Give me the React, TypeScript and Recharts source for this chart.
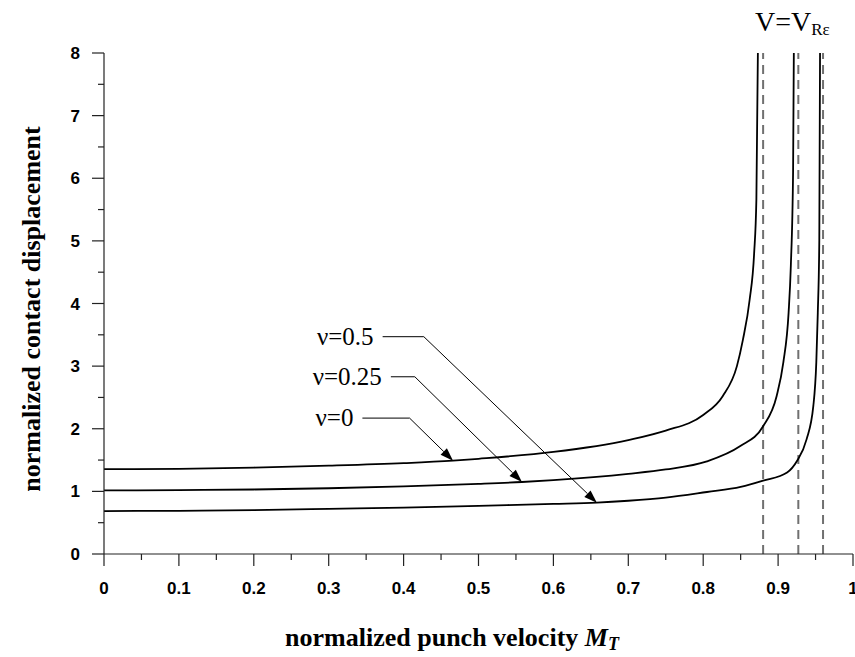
import React from 'react'
import { LineChart, Line, XAxis, YAxis, ReferenceLine } from 'recharts'

// x = normalized punch velocity, y = normalized contact displacement
const nu0 = [
  { x: 0, y: 1.355 }, { x: 0.1, y: 1.36 }, { x: 0.2, y: 1.38 }, { x: 0.3, y: 1.41 },
  { x: 0.4, y: 1.45 }, { x: 0.466, y: 1.49 }, { x: 0.5, y: 1.52 }, { x: 0.6, y: 1.63 },
  { x: 0.7, y: 1.82 }, { x: 0.75, y: 1.97 }, { x: 0.8, y: 2.22 }, { x: 0.826, y: 2.52 },
  { x: 0.845, y: 3.0 }, { x: 0.853, y: 3.42 }, { x: 0.862, y: 4.06 }, { x: 0.868, y: 4.8 },
  { x: 0.871, y: 5.66 }, { x: 0.873, y: 8 },
]
const nu025 = [
  { x: 0, y: 1.015 }, { x: 0.1, y: 1.02 }, { x: 0.2, y: 1.03 }, { x: 0.3, y: 1.05 },
  { x: 0.4, y: 1.08 }, { x: 0.5, y: 1.12 }, { x: 0.558, y: 1.15 }, { x: 0.6, y: 1.18 },
  { x: 0.7, y: 1.28 }, { x: 0.75, y: 1.35 }, { x: 0.805, y: 1.48 }, { x: 0.849, y: 1.72 },
  { x: 0.88, y: 2.04 }, { x: 0.898, y: 2.52 }, { x: 0.907, y: 3.06 }, { x: 0.914, y: 3.85 },
  { x: 0.917, y: 4.6 }, { x: 0.92, y: 6.1 }, { x: 0.921, y: 8 },
]
const nu05 = [
  { x: 0, y: 0.686 }, { x: 0.1, y: 0.69 }, { x: 0.2, y: 0.7 }, { x: 0.3, y: 0.72 },
  { x: 0.4, y: 0.74 }, { x: 0.5, y: 0.77 }, { x: 0.6, y: 0.8 }, { x: 0.658, y: 0.82 },
  { x: 0.7, y: 0.85 }, { x: 0.75, y: 0.9 }, { x: 0.805, y: 0.99 }, { x: 0.85, y: 1.07 },
  { x: 0.88, y: 1.17 }, { x: 0.912, y: 1.3 }, { x: 0.925, y: 1.48 }, { x: 0.938, y: 1.83 },
  { x: 0.947, y: 2.36 }, { x: 0.951, y: 3.06 }, { x: 0.953, y: 3.85 }, { x: 0.955, y: 5 },
  { x: 0.956, y: 8 },
]

// limit velocities V_Rε (dashed)
const limits = [0.88, 0.927, 0.96]

const xTicks = [0, 0.05, 0.1, 0.15, 0.2, 0.25, 0.3, 0.35, 0.4, 0.45, 0.5, 0.55, 0.6, 0.65, 0.7, 0.75, 0.8, 0.85, 0.9, 0.95, 1]
const yTicks = [0, 0.5, 1, 1.5, 2, 2.5, 3, 3.5, 4, 4.5, 5, 5.5, 6, 6.5, 7, 7.5, 8]

// labels with leader line: text, horizontal segment, arrow tip on curve
const labels = [
  { text: 'ν=0.5', x1: 0.372, x2: 0.427, y: 3.47, tipX: 0.658, tipY: 0.82 },
  { text: 'ν=0.25', x1: 0.383, x2: 0.415, y: 2.83, tipX: 0.558, tipY: 1.15 },
  { text: 'ν=0', x1: 0.345, x2: 0.408, y: 2.17, tipX: 0.466, tipY: 1.49 },
]

const tickFont = { fontFamily: 'Liberation Sans, Arial, sans-serif', fontWeight: 700, fontSize: 17, fill: '#000' }
const serif = 'Liberation Serif, Times New Roman, serif'

const isMajorX = (v: number) => Math.abs(v * 10 - Math.round(v * 10)) < 1e-6
const fmtX = (v: number) => (v === 0 ? '0' : v === 1 ? '1' : v.toFixed(1))

const XTick = (props: any) => {
  const { x, y, payload } = props
  const major = isMajorX(payload.value)
  return (
    <g>
      <line x1={x} y1={y} x2={x} y2={y + (major ? 12 : 6)} stroke="#222" strokeWidth={1.2} />
      {major && (
        <text x={x} y={y + 40} textAnchor="middle" style={tickFont}>
          {fmtX(payload.value)}
        </text>
      )}
    </g>
  )
}

const YTick = (props: any) => {
  const { x, y, payload } = props
  const major = Number.isInteger(payload.value)
  return (
    <g>
      <line x1={x} y1={y} x2={x - (major ? 12 : 6)} y2={y} stroke="#222" strokeWidth={1.2} />
      {major && (
        <text x={x - 24} y={y + 6} textAnchor="end" style={tickFont}>
          {payload.value}
        </text>
      )}
    </g>
  )
}

const labelShape = (text: string) => (p: any) => (
  <g>
    <line x1={p.x1} y1={p.y1} x2={p.x2} y2={p.y2} stroke="#000" strokeWidth={1} />
    <text x={p.x1 - 9} y={p.y1 + 8} textAnchor="end" fontFamily={serif} fontSize={25} fill="#000">
      {text}
    </text>
  </g>
)

const arrowShape = (p: any) => {
  const dx = p.x2 - p.x1
  const dy = p.y2 - p.y1
  const len = Math.sqrt(dx * dx + dy * dy) || 1
  const ux = dx / len
  const uy = dy / len
  const bx = p.x2 - ux * 13
  const by = p.y2 - uy * 13
  const pts = `${p.x2},${p.y2} ${bx - uy * 4.5},${by + ux * 4.5} ${bx + uy * 4.5},${by - ux * 4.5}`
  return (
    <g>
      <line x1={p.x1} y1={p.y1} x2={bx} y2={by} stroke="#000" strokeWidth={1} />
      <polygon points={pts} fill="#000" />
    </g>
  )
}

export default function App() {
  return (
    <div style={{ position: 'absolute', left: 0, top: 0 }}>
      <LineChart width={855} height={657} margin={{ top: 53, right: 2, left: 0, bottom: 0 }}>
        <XAxis
          dataKey="x"
          type="number"
          domain={[0, 1]}
          ticks={xTicks}
          interval={0}
          tickSize={0}
          tickMargin={0}
          tick={<XTick />}
          tickLine={false}
          axisLine={{ stroke: '#222', strokeWidth: 1.2 }}
          height={103}
          allowDataOverflow
        />
        <YAxis
          type="number"
          domain={[0, 8]}
          ticks={yTicks}
          interval={0}
          tickSize={0}
          tickMargin={0}
          tick={<YTick />}
          tickLine={false}
          axisLine={{ stroke: '#222', strokeWidth: 1.2 }}
          width={104}
          allowDataOverflow
        />
        {limits.map((v) => (
          <ReferenceLine key={v} x={v} stroke="#707070" strokeWidth={2} strokeDasharray="9 6" />
        ))}
        <Line data={nu0} dataKey="y" type="monotone" stroke="#000" strokeWidth={1.8} dot={false} isAnimationActive={false} />
        <Line data={nu025} dataKey="y" type="monotone" stroke="#000" strokeWidth={1.8} dot={false} isAnimationActive={false} />
        <Line data={nu05} dataKey="y" type="monotone" stroke="#000" strokeWidth={1.8} dot={false} isAnimationActive={false} />
        {labels.map((l) => (
          <ReferenceLine
            key={l.text + 'h'}
            segment={[{ x: l.x1, y: l.y }, { x: l.x2, y: l.y }]}
            shape={labelShape(l.text)}
          />
        ))}
        {labels.map((l) => (
          <ReferenceLine
            key={l.text + 'a'}
            segment={[{ x: l.x2, y: l.y }, { x: l.tipX, y: l.tipY }]}
            shape={arrowShape}
          />
        ))}
        <text x={755} y={31} fontFamily={serif} fontSize={28} fill="#000">
          V=V
          <tspan fontSize={17} dy={4}>Rε</tspan>
        </text>
        <text
          x={452}
          y={646}
          textAnchor="middle"
          fontFamily={serif}
          fontWeight={700}
          fontSize={26}
          fill="#000"
        >
          normalized punch velocity{' '}
          <tspan fontStyle="italic">M</tspan>
          <tspan fontStyle="italic" fontSize={18} dy={4}>T</tspan>
        </text>
        <text
          x={40}
          y={309}
          transform="rotate(-90 40 309)"
          textAnchor="middle"
          fontFamily={serif}
          fontWeight={700}
          fontSize={26}
          fill="#000"
        >
          normalized contact displacement
        </text>
      </LineChart>
    </div>
  )
}
